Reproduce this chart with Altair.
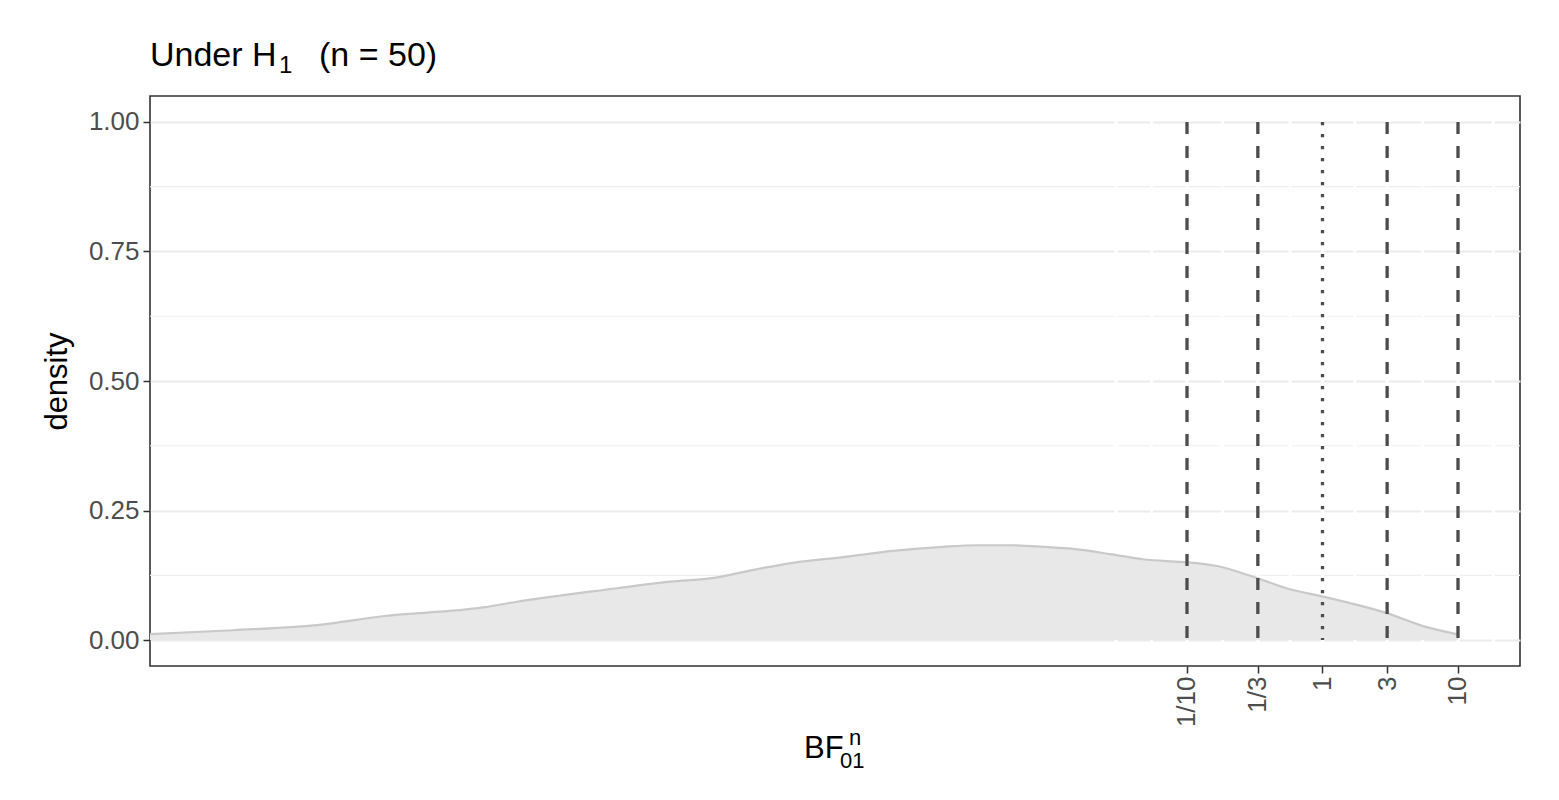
import altair as alt
import numpy as np
import pandas as pd

# ---- data (x = log10 BF01, y = density) ----
log_bf = [-8.653, -8.04, -7.42, -6.934, -6.196, -5.945, -5.207, -4.815, -4.52,
          -4.151, -3.908, -3.539, -3.170, -2.801, -2.550, -2.306, -2.063, -1.812,
          -1.568, -1.325, -1.052, -1.0, -0.779, -0.476, -0.240, 0.004, 0.255,
          0.476, 0.742, 1.0]
density = [0.0116, 0.019, 0.029, 0.046, 0.063, 0.074, 0.100, 0.113, 0.119,
           0.138, 0.149, 0.160, 0.172, 0.180, 0.183, 0.183, 0.180, 0.175,
           0.166, 0.156, 0.151, 0.150, 0.143, 0.119, 0.098, 0.084, 0.068,
           0.052, 0.027, 0.011]

tick_bf = [0.1, 1 / 3, 1, 3, 10]
tick_labels = ["1/10", "1/3", "1", "3", "10"]
line_types = ["dashed", "dashed", "dotted", "dashed", "dashed"]

y_major = [0, 0.25, 0.5, 0.75, 1.0]
y_minor = [0.125, 0.375, 0.625, 0.875]
x_minor_log = [-1.523, -1.261, -1.0, -0.7386, -0.477, -0.2386, 0.0, 0.2386,
               0.477, 0.7386, 1.0, 1.261]

W, H = 1370, 570
X_DOMAIN = [-8.653, 1.4576]
Y_DOMAIN = [-0.05, 1.05]
FONT = "Liberation Sans"

tick_log = [float(np.log10(v)) for v in tick_bf]
label_expr = " : ".join(
    f"abs(datum.value - ({v:.5f})) < 0.01 ? '{l}'" for v, l in zip(tick_log, tick_labels)
) + " : ''"

dens_df = pd.DataFrame({"x": log_bf, "y": density})
rules_df = pd.DataFrame({"x": tick_log, "lt": line_types, "y0": 0.0, "y1": 1.0})
minor_df = pd.DataFrame({"y": y_minor})
xgrid_df = pd.DataFrame({"x": x_minor_log})

xscale = alt.Scale(domain=X_DOMAIN, nice=False, zero=False)
yscale = alt.Scale(domain=Y_DOMAIN, nice=False, zero=False)

x_axis = alt.Axis(values=tick_log, labelExpr=label_expr, labelAngle=270,
                  labelAlign="right", labelBaseline="middle", labelPadding=3,
                  labelFontSize=26, labelColor="#4D4D4D", labelFont=FONT,
                  tickColor="#333333", tickSize=7, tickWidth=1.5,
                  grid=False, domain=False, title=None)
y_axis = alt.Axis(values=y_major, format=".2f", labelFontSize=26,
                  labelColor="#4D4D4D", labelFont=FONT, labelPadding=4,
                  tickColor="#333333", tickSize=7, tickWidth=1.5,
                  grid=True, gridColor="#EBEBEB", gridWidth=2,
                  domain=False, title="density", titleFont=FONT,
                  titleFontSize=31, titleFontWeight="normal",
                  titleColor="#000000", titlePadding=15)

base = alt.Chart(dens_df)

minor_grid = alt.Chart(minor_df).mark_rule(color="#EFEFEF", strokeWidth=1.2).encode(
    y=alt.Y("y:Q", scale=yscale, axis=y_axis)
)

xgrid = alt.Chart(xgrid_df).mark_rule(color="#FFFFFF", strokeWidth=3).encode(
    x=alt.X("x:Q", scale=xscale, axis=x_axis),
    y=alt.value(2),
    y2=alt.value(H - 2),
)

area = base.mark_area(color="#E8E8E8", interpolate="monotone", clip=True).encode(
    x=alt.X("x:Q", scale=xscale, axis=x_axis),
    y=alt.Y("y:Q", scale=yscale, axis=y_axis),
)
line = base.mark_line(color="#C9C9C9", strokeWidth=2.2, interpolate="monotone",
                      clip=True).encode(
    x=alt.X("x:Q", scale=xscale),
    y=alt.Y("y:Q", scale=yscale),
)

rules = alt.Chart(rules_df).mark_rule(color="#4D4D4D", strokeWidth=3.3).encode(
    x=alt.X("x:Q", scale=xscale),
    y=alt.Y("y1:Q", scale=yscale),
    y2="y0:Q",
    strokeDash=alt.StrokeDash(
        "lt:N",
        scale=alt.Scale(domain=["dashed", "dotted"], range=[[12, 12], [3.3, 8.7]]),
        legend=None,
    ),
)


def txt(s, x, y, size):
    return alt.Chart(pd.DataFrame({"t": [s]})).mark_text(
        font=FONT, fontSize=size, align="left", baseline="alphabetic",
        color="#000000", clip=False
    ).encode(text="t:N", x=alt.value(x), y=alt.value(y))


title_parts = [
    txt("Under H", 0, -30, 34),
    txt("1", 129, -23, 24),
    txt("(n = 50)", 169, -30, 34),
]
xtitle_parts = [
    txt("BF", 654, 662, 31),
    txt("n", 699, 649, 22),
    txt("01", 690, 672, 22),
]

chart = alt.layer(
    minor_grid, xgrid, area, line, rules, *title_parts, *xtitle_parts
).properties(
    width=W, height=H,
    autosize=alt.AutoSizeParams(type="none"),
    padding={"left": 142, "top": 88, "right": 30, "bottom": 120},
).configure(
    background="#FFFFFF",
    view=alt.ViewConfig(stroke="#333333", strokeWidth=1.6),
)

chart.save("out.html", embed_options={"renderer": "svg", "actions": False})
